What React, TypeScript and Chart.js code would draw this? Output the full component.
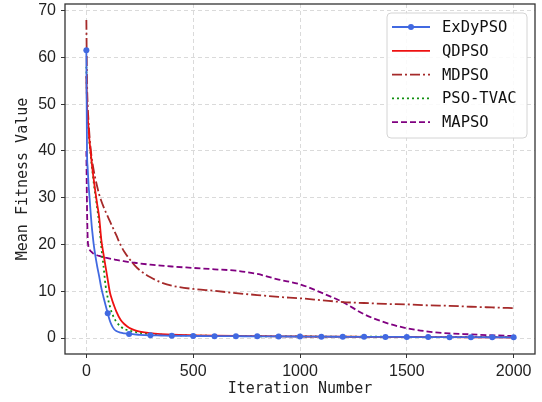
import React, { useEffect, useRef } from "react";
import { Chart, registerables } from "chart.js";

Chart.register(...registerables);

const iterations = [0, 3, 6, 10, 15, 20, 25, 30, 35, 40, 50, 60, 70, 80, 90, 100, 110, 120, 130, 140, 160, 180, 200, 225, 250, 300, 350, 400, 500, 600, 700, 800, 900, 1000, 1100, 1200, 1300, 1400, 1500, 1600, 1700, 1800, 1900, 2000];

const exdypso = [61.5, 40, 36.5, 33, 30, 26.8, 24, 21.8, 19.8, 18.2, 15.5, 13.2, 10.7, 8.8, 7, 5.3, 3.7, 2.6, 1.9, 1.5, 1.15, 1.0, 0.9, 0.8, 0.7, 0.6, 0.55, 0.5, 0.45, 0.42, 0.4, 0.38, 0.35, 0.33, 0.3, 0.28, 0.26, 0.25, 0.23, 0.22, 0.2, 0.19, 0.18, 0.17];
const qdpso = [56, 50, 47.5, 45, 42, 39.8, 37.5, 35.5, 33.7, 32, 28.8, 25.8, 21, 18, 15.2, 12.5, 9.8, 8.2, 6.9, 5.7, 3.9, 2.9, 2.2, 1.7, 1.4, 1.05, 0.85, 0.72, 0.6, 0.52, 0.46, 0.42, 0.38, 0.35, 0.32, 0.3, 0.27, 0.25, 0.23, 0.21, 0.19, 0.17, 0.15, 0.13];
const mdpso = [68, 55, 50, 46.5, 43, 40.5, 38.5, 37, 35.7, 34.5, 32.5, 30.7, 29.3, 28.1, 27, 26, 25, 24, 23, 22, 19.9, 18.3, 17.0, 15.6, 14.5, 13.0, 11.9, 11.2, 10.5, 10.1, 9.6, 9.2, 8.8, 8.5, 8.1, 7.7, 7.5, 7.3, 7.2, 7.0, 6.9, 6.7, 6.55, 6.4];
const psotvac = [58, 50, 47, 44.5, 41.5, 39.2, 37, 35, 33, 31.3, 28, 24.5, 19.5, 15.5, 11.2, 8.6, 6.8, 5.3, 4.3, 3.5, 2.5, 1.9, 1.6, 1.35, 1.15, 0.85, 0.72, 0.65, 0.55, 0.48, 0.43, 0.4, 0.37, 0.35, 0.33, 0.31, 0.29, 0.28, 0.27, 0.26, 0.25, 0.24, 0.23, 0.22];
const mapso = [40, 28, 21.5, 19.5, 18.9, 18.6, 18.4, 18.15, 18.0, 17.9, 17.7, 17.55, 17.4, 17.3, 17.2, 17.1, 17.0, 16.9, 16.8, 16.7, 16.55, 16.4, 16.25, 16.1, 15.95, 15.7, 15.5, 15.3, 15.0, 14.7, 14.4, 13.7, 12.5, 11.5, 9.7, 7.7, 5.1, 3.3, 2.1, 1.4, 1.0, 0.8, 0.6, 0.45];

const seriesNames = ["ExDyPSO", "QDPSO", "MDPSO", "PSO-TVAC", "MAPSO"];
const seriesColors = ["#4169e1", "#ee1111", "#a52a2a", "#109010", "#800080"];
const seriesDashes: number[][] = [[], [], [10, 3, 2, 3], [2, 3], [6, 3]];
const xTicks = [0, 500, 1000, 1500, 2000];
const yTicks = [0, 10, 20, 30, 40, 50, 60, 70];
const xLabel = "Iteration Number";
const yLabel = "Mean Fitness Value";

const MONO = "'DejaVu Sans Mono', monospace";
const SANS = "'Liberation Sans', Arial, sans-serif";

const framePlugin = {
  id: "frame",
  afterDraw(chart: any) {
    const { ctx, chartArea } = chart;
    ctx.save();
    ctx.strokeStyle = "#333";
    ctx.lineWidth = 1.3;
    ctx.strokeRect(chartArea.left, chartArea.top, chartArea.right - chartArea.left, chartArea.bottom - chartArea.top);
    ctx.restore();
  },
};

const legendPlugin = {
  id: "boxLegend",
  afterDraw(chart: any) {
    const { ctx, chartArea } = chart;
    const w = 140;
    const h = 125;
    const x0 = chartArea.right - 8 - w;
    const y0 = chartArea.top + 9;
    ctx.save();
    ctx.beginPath();
    ctx.roundRect(x0, y0, w, h, 4);
    ctx.fillStyle = "rgba(255,255,255,0.85)";
    ctx.fill();
    ctx.strokeStyle = "#d4d4d4";
    ctx.lineWidth = 1;
    ctx.stroke();
    chart.data.datasets.forEach((ds: any, i: number) => {
      const y = y0 + 14 + i * 23.8;
      ctx.beginPath();
      ctx.setLineDash(ds.borderDash || []);
      ctx.strokeStyle = ds.borderColor;
      ctx.lineWidth = ds.borderWidth;
      ctx.moveTo(x0 + 5, y);
      ctx.lineTo(x0 + 43, y);
      ctx.stroke();
      ctx.setLineDash([]);
      if (i === 0) {
        ctx.beginPath();
        ctx.arc(x0 + 24, y, 3, 0, Math.PI * 2);
        ctx.fillStyle = ds.borderColor;
        ctx.fill();
      }
      ctx.fillStyle = "#111";
      ctx.font = `15.5px ${MONO}`;
      ctx.textBaseline = "middle";
      ctx.textAlign = "left";
      ctx.fillText(ds.label, x0 + 55, y + 1);
    });
    ctx.restore();
  },
};

export default function App() {
  const ref = useRef<HTMLCanvasElement | null>(null);
  useEffect(() => {
    if (!ref.current) return;
    const arrays = [exdypso, qdpso, mdpso, psotvac, mapso];
    const datasets = arrays.map((arr, i) => ({
      label: seriesNames[i],
      data: iterations.map((x, j) => ({ x, y: arr[j] })),
      borderColor: seriesColors[i],
      backgroundColor: seriesColors[i],
      borderDash: seriesDashes[i],
      borderWidth: 1.8,
      cubicInterpolationMode: "monotone" as const,
      pointRadius: i === 0 ? (c: any) => (iterations[c.dataIndex] % 100 === 0 ? 3 : 0) : 0,
      pointBorderWidth: 0,
      fill: false,
    }));
    const chart = new Chart(ref.current, {
      type: "line",
      data: { datasets },
      options: {
        animation: false,
        responsive: false,
        devicePixelRatio: 1,
        layout: { padding: { top: 4, right: 7, left: 0, bottom: 0 } },
        plugins: { legend: { display: false }, tooltip: { enabled: false } },
        scales: {
          x: {
            type: "linear",
            min: -100,
            max: 2100,
            afterBuildTicks: (s: any) => { s.ticks = xTicks.map((v) => ({ value: v })); },
            afterFit: (s: any) => { s.height = 48; s.paddingLeft = 0; s.paddingRight = 0; },
            border: { display: false, dash: [4, 3] },
            grid: { color: "#dadada", tickBorderDash: [], tickColor: "#333", tickLength: 4, lineWidth: 1 },
            ticks: { color: "#222", font: { family: SANS, size: 16 }, padding: 4, maxRotation: 0, callback: (v: any) => String(v) },
            title: { display: true, text: xLabel, color: "#222", font: { family: MONO, size: 15 }, padding: { top: 0, bottom: 4 } },
          },
          y: {
            type: "linear",
            min: -3.4,
            max: 71.4,
            afterBuildTicks: (s: any) => { s.ticks = yTicks.map((v) => ({ value: v })); },
            afterFit: (s: any) => { s.width = 65; s.paddingTop = 0; s.paddingBottom = 0; },
            border: { display: false, dash: [4, 3] },
            grid: { color: "#dadada", tickBorderDash: [], tickColor: "#333", tickLength: 4, lineWidth: 1 },
            ticks: { color: "#222", font: { family: SANS, size: 16 }, padding: 5, callback: (v: any) => String(v) },
            title: { display: true, text: yLabel, color: "#222", font: { family: MONO, size: 15 }, padding: { top: 14, bottom: 0 } },
          },
        },
      },
      plugins: [framePlugin, legendPlugin],
    });
    return () => chart.destroy();
  }, []);
  return (
    <div style={{ position: "absolute", left: 0, top: 0, width: 542, height: 402, background: "#fff" }}>
      <canvas ref={ref} width={542} height={402} />
    </div>
  );
}
